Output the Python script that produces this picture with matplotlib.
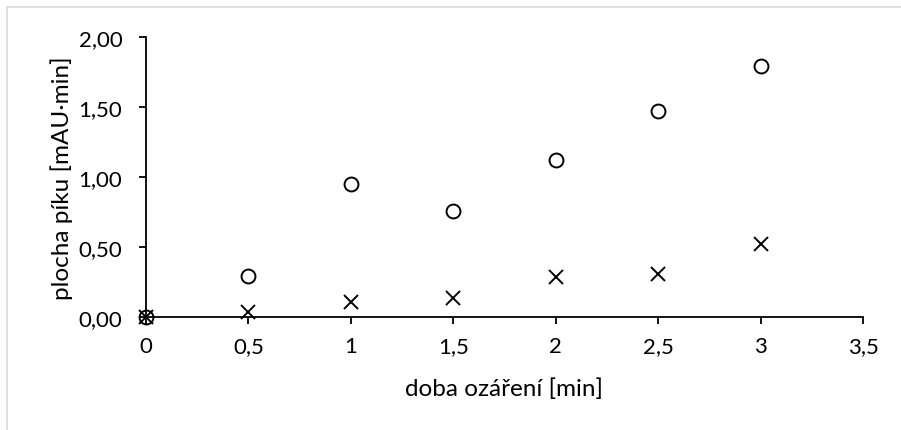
import matplotlib
matplotlib.use('Agg')
import matplotlib.pyplot as plt
from matplotlib.patches import Rectangle
from matplotlib.ticker import FuncFormatter

plt.rcParams['font.family'] = ['Lato', 'DejaVu Sans']

# data
doba = [0, 0.5, 1, 1.5, 2, 2.5, 3]
plocha_kruh = [0.0, 0.29, 0.95, 0.76, 1.12, 1.47, 1.79]
plocha_krizek = [0.0, 0.034, 0.105, 0.134, 0.284, 0.307, 0.52]
xticks = [0, 0.5, 1, 1.5, 2, 2.5, 3, 3.5]
yticks = [0, 0.5, 1.0, 1.5, 2.0]

fig = plt.figure(figsize=(9.01, 4.31), dpi=100)
ax = fig.add_axes([146/901, 1 - 318/431, (863-146)/901, (318-38)/431])

# light grey chart frame, runs off the right and bottom edge
fig.patches.append(Rectangle((7/901, -0.5), 1.5, 1 - 8/431 + 0.5,
                             transform=fig.transFigure, fill=False,
                             edgecolor='#d9d9d9', linewidth=1.2))

ax.plot(doba, plocha_kruh, linestyle='none', marker='o', markersize=10,
        markerfacecolor='none', markeredgecolor='black', markeredgewidth=1.4,
        clip_on=False, zorder=3)
ax.plot(doba, plocha_krizek, linestyle='none', marker='x', markersize=9.5,
        color='black', markeredgewidth=1.4, clip_on=False, zorder=3)

ax.set_xlim(0, 3.5)
ax.set_ylim(0, 2)
ax.set_xticks(xticks)
ax.set_yticks(yticks)
ax.xaxis.set_major_formatter(FuncFormatter(lambda v, p: ('%g' % v).replace('.', ',')))
ax.yaxis.set_major_formatter(FuncFormatter(lambda v, p: ('%.2f' % v).replace('.', ',')))

for s in ['top', 'right']:
    ax.spines[s].set_visible(False)
for s in ['left', 'bottom']:
    ax.spines[s].set_linewidth(1.3)
ax.tick_params(direction='out', length=5, width=1.3, labelsize=16)
ax.tick_params(axis='x', pad=9)
ax.tick_params(axis='y', pad=12)

ax.set_xlabel('doba ozáření [min]', fontsize=17.5, va='center')
ax.set_ylabel('plocha píku [mAU·min]', fontsize=17.5, va='center')
ax.xaxis.set_label_coords(504 / 901, (431 - 389) / 431, transform=fig.transFigure)
ax.yaxis.set_label_coords(62 / 901, (431 - 178) / 431, transform=fig.transFigure)

fig.savefig('out.png', dpi=100)
